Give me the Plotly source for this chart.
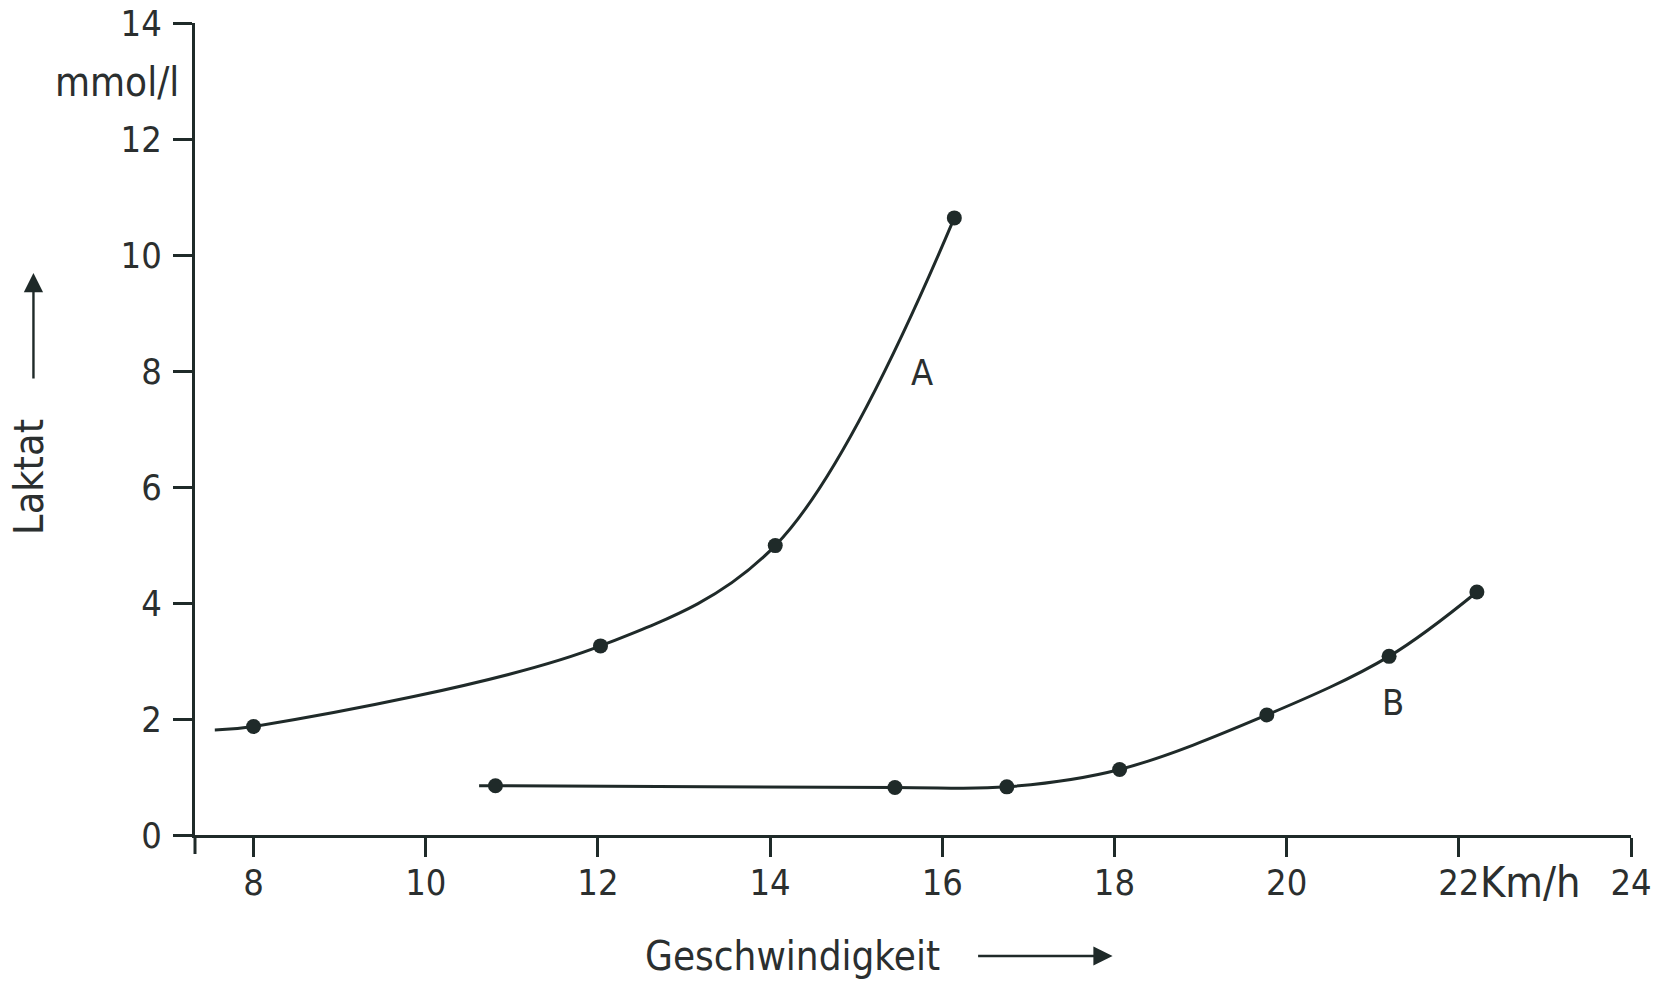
import plotly.graph_objects as go

# ---- data ----
a_speed = [7.55, 8.0, 12.03, 14.06, 16.14]
a_lactate = [1.81, 1.87, 3.26, 4.99, 10.64]
a_marker = [0, 1, 1, 1, 1]          # first point = start of drawn curve (no dot)

b_speed = [10.62, 10.81, 15.45, 16.75, 18.06, 19.77, 21.19, 22.21]
b_lactate = [0.85, 0.85, 0.82, 0.83, 1.13, 2.07, 3.08, 4.19]
b_marker = [0, 1, 1, 1, 1, 1, 1, 1]

x_ticks = [8, 10, 12, 14, 16, 18, 20, 22, 24]
y_ticks = [0, 2, 4, 6, 8, 10, 12, 14]

INK = "#1f2a29"
TXT = "#2b2f2f"
FONT = "Liberation Sans Narrow, DejaVu Sans Condensed, DejaVu Sans, sans-serif"

fig = go.Figure()

for xs, ys, ms in [(a_speed, a_lactate, a_marker), (b_speed, b_lactate, b_marker)]:
    fig.add_trace(go.Scatter(
        x=xs, y=ys, mode="lines",
        line=dict(color=INK, width=3, shape="spline", smoothing=1.0),
        hoverinfo="skip", showlegend=False))
    fig.add_trace(go.Scatter(
        x=[x for x, m in zip(xs, ms) if m], y=[y for y, m in zip(ys, ms) if m],
        mode="markers", marker=dict(color=INK, size=15),
        showlegend=False))

fig.update_layout(
    width=1668, height=982,
    margin=dict(l=195, r=37, t=23, b=147, autoexpand=False),
    paper_bgcolor="white", plot_bgcolor="white",
    font=dict(family=FONT, color=TXT, size=36),
    xaxis=dict(range=[7.32, 24], tickvals=x_ticks, ticktext=[str(v) for v in x_ticks],
               showline=True, linecolor=INK, linewidth=3, ticks="outside",
               ticklen=19, tickwidth=3, tickcolor=INK, showgrid=False, zeroline=False,
               ticklabelstandoff=-5, automargin=False),
    yaxis=dict(range=[0, 14], tickvals=y_ticks, ticktext=[str(v) for v in y_ticks],
               showline=True, linecolor=INK, linewidth=3, ticks="outside",
               ticklen=19, tickwidth=3, tickcolor=INK, showgrid=False, zeroline=False,
               ticklabelstandoff=4, automargin=False),
)

# tick at origin going down (continuation of y axis)
fig.add_shape(type="line", xref="paper", yref="paper", x0=0, x1=0, y0=0, y1=-19/812,
              line=dict(color=INK, width=3))

ann = [
    dict(text="mmol/l", x=-0.0098, y=0.927, xanchor="right", yanchor="middle", font=dict(size=40)),
    dict(text="Laktat", x=-0.1156, y=0.441, textangle=-90, xanchor="center", yanchor="middle", font=dict(size=41)),
    dict(text="Geschwindigkeit", x=0.416, y=-0.149, xanchor="center", yanchor="middle", font=dict(size=40)),
    dict(text="Km/h", x=0.8935, y=-0.058, xanchor="left", yanchor="middle", font=dict(size=43)),
]
for a in ann:
    fig.add_annotation(xref="paper", yref="paper", showarrow=False, **a)

fig.add_annotation(x=15.77, y=7.98, text="A", showarrow=False, xanchor="center", yanchor="middle")
fig.add_annotation(x=21.23, y=2.29, text="B", showarrow=False, xanchor="center", yanchor="middle")

# arrows
fig.add_annotation(xref="paper", yref="paper", x=-0.1125, y=0.692, ax=0, ay=107,
                   text="", showarrow=True, arrowhead=2, arrowsize=1.6, arrowwidth=2.4,
                   arrowcolor=INK)
fig.add_annotation(xref="paper", yref="paper", x=0.639, y=-0.149, ax=-136, ay=0,
                   text="", showarrow=True, arrowhead=2, arrowsize=1.6, arrowwidth=2.4,
                   arrowcolor=INK)

fig.write_html("out.html")
